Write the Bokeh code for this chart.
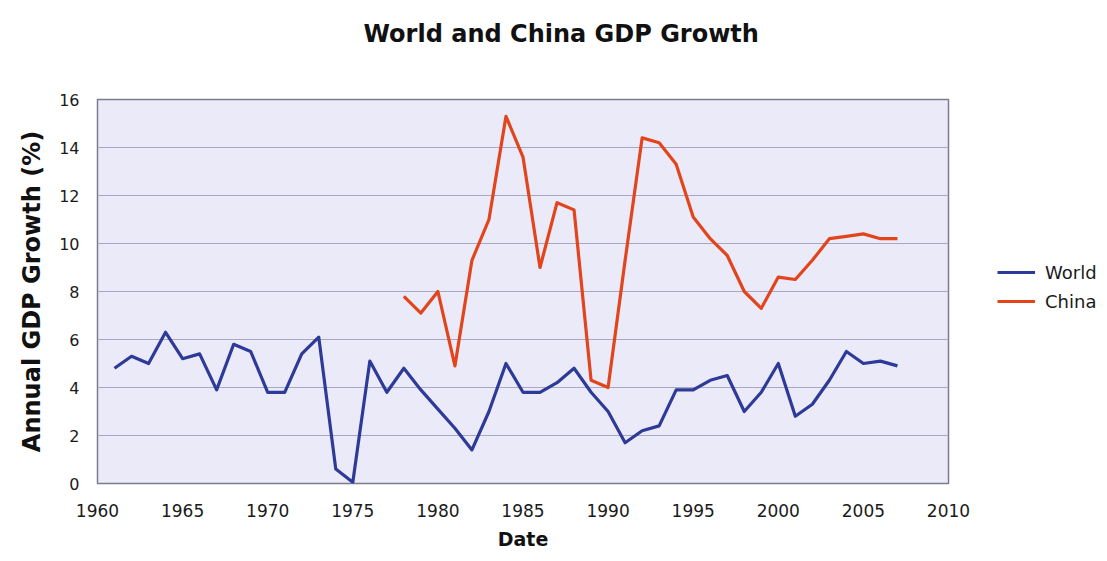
from bokeh.plotting import figure
from bokeh.models import Legend, LegendItem, FixedTicker, Range1d, Title
from bokeh.embed import file_html
from bokeh.resources import INLINE

# Annual GDP growth (%) by year
world_years = list(range(1961, 2008))
world_growth = [4.8, 5.3, 5.0, 6.3, 5.2, 5.4, 3.9, 5.8, 5.5, 3.8,
                3.8, 5.4, 6.1, 0.6, 0.05, 5.1, 3.8, 4.8, 3.9, 3.1,
                2.3, 1.4, 3.0, 5.0, 3.8, 3.8, 4.2, 4.8, 3.8, 3.0,
                1.7, 2.2, 2.4, 3.9, 3.9, 4.3, 4.5, 3.0, 3.8, 5.0,
                2.8, 3.3, 4.3, 5.5, 5.0, 5.1, 4.9]

china_years = list(range(1978, 2008))
china_growth = [7.8, 7.1, 8.0, 4.9, 9.3, 11.0, 15.3, 13.6, 9.0, 11.7,
                11.4, 4.3, 4.0, 9.3, 14.4, 14.2, 13.3, 11.1, 10.2, 9.5,
                8.0, 7.3, 8.6, 8.5, 9.3, 10.2, 10.3, 10.4, 10.2, 10.2]

x_ticks = [1960, 1965, 1970, 1975, 1980, 1985, 1990, 1995, 2000, 2005, 2010]
y_ticks = [0, 2, 4, 6, 8, 10, 12, 14, 16]

BLUE = "#2E3A98"
RED = "#E2441C"
FONT = "DejaVu Sans"

p = figure(frame_width=851, frame_height=384,
           output_backend="svg", toolbar_location=None,
           x_range=Range1d(1960, 2010), y_range=Range1d(0, 16),
           min_border_left=97, min_border_right=159,
           min_border_top=99, min_border_bottom=78,
           background_fill_color="#EAEAF8", border_fill_color="white",
           outline_line_color="#7C7C8C", outline_line_width=1.5)

p.title.text = "World and China GDP Growth"
p.title.text_font = FONT
p.title.text_font_size = "24px"
p.title.text_font_style = "bold"
p.title.text_color = "#111111"
p.title.align = "left"
p.title.offset = 266
p.title.standoff = 0

# blank spacer row between the title and the plot frame
p.add_layout(Title(text=" ", text_font_size="12px", standoff=36), "above")

world = p.line(world_years, world_growth, line_color=BLUE, line_width=3.2,
               line_join="round")
china = p.line(china_years, china_growth, line_color=RED, line_width=3.2,
               line_join="round")

# Axes
p.xaxis.ticker = FixedTicker(ticks=x_ticks)
p.yaxis.ticker = FixedTicker(ticks=y_ticks)
for ax in (p.xaxis[0], p.yaxis[0]):
    ax.major_tick_line_color = None
    ax.minor_tick_line_color = None
    ax.axis_line_color = None
    ax.major_label_text_font = FONT
    ax.major_label_text_color = "#1A1A1A"
    ax.axis_label_text_font = FONT
    ax.axis_label_text_font_style = "bold"
    ax.axis_label_text_color = "#111111"

p.xaxis.major_label_text_font_size = "17px"
p.xaxis.major_label_standoff = 14
p.xaxis.axis_label = "Date"
p.xaxis.axis_label_text_font_size = "19px"
p.xaxis.axis_label_standoff = 8

p.yaxis.major_label_text_font_size = "16px"
p.yaxis.major_label_standoff = 12
p.yaxis.axis_label = "Annual GDP Growth (%)"
p.yaxis.axis_label_text_font_size = "24px"
p.yaxis.axis_label_standoff = 10

p.xgrid.grid_line_color = None
p.ygrid.grid_line_color = "#A8A8C6"
p.ygrid.grid_line_width = 1

# Legend sits in the right margin, beside the plot frame
legend = Legend(items=[LegendItem(label="World", renderers=[world]),
                       LegendItem(label="China", renderers=[china])],
                location=(49, 171), margin=0, padding=0,
                glyph_width=38, glyph_height=22, label_height=22,
                spacing=7, label_standoff=10,
                label_text_font=FONT, label_text_font_size="18px",
                label_text_color="#1A1A1A",
                border_line_color=None, background_fill_alpha=0)
p.add_layout(legend, "right")

open("out.html", "w").write(file_html(p, INLINE))
